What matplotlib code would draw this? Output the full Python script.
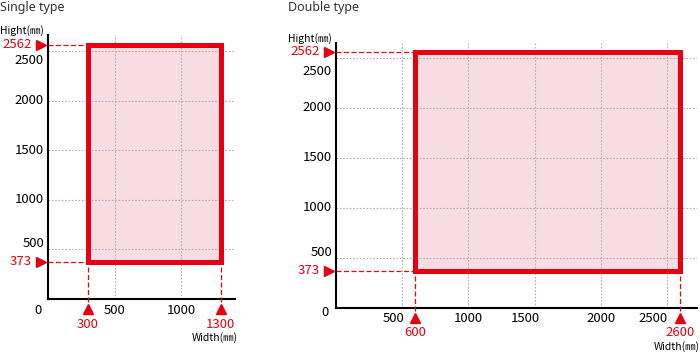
import matplotlib.pyplot as plt
from matplotlib.patches import Rectangle
from matplotlib.transforms import offset_copy

# Size ranges (mm)
single_width = [300, 1300]
single_height = [373, 2562]
double_width = [600, 2600]
double_height = [373, 2562]

single_xticks = [500, 1000]
double_xticks = [500, 1000, 1500, 2000, 2500]
yticks = [500, 1000, 1500, 2000, 2500]

RED = '#e60012'
FILL = '#f9dce2'
GRID = '#b0b0b0'

plt.rcParams['font.family'] = ['Liberation Sans Narrow', 'Noto Sans CJK JP', 'DejaVu Sans']

fig = plt.figure(figsize=(7, 3.53), dpi=100)


def px(x, y, w, h):
    # axes box given in pixels from the top-left corner
    return [x / 700, 1 - (y + h) / 353, w / 700, h / 353]


def draw_chart(ax, widths, heights, xticks, xlim, ylim,
               xtick_shift, ytick_shift, zero_off):
    ax.set_xlim(*xlim)
    ax.set_ylim(*ylim)
    for side in ['top', 'right']:
        ax.spines[side].set_visible(False)
    for side in ['left', 'bottom']:
        ax.spines[side].set_linewidth(1.5)
    ax.set_xticks(xticks)
    ax.set_yticks(yticks)
    ax.tick_params(length=0, labelbottom=False, labelleft=False)
    ax.grid(True, linestyle=(0, (1.5, 1.5)), color=GRID, linewidth=0.8)

    x0, x1 = widths
    y0, y1 = heights
    ax.add_patch(Rectangle((x0, y0), x1 - x0, y1 - y0, facecolor=FILL,
                           edgecolor='none', zorder=1))
    ax.add_patch(Rectangle((x0, y0), x1 - x0, y1 - y0, fill=False,
                           edgecolor=RED, linewidth=3.6, zorder=4,
                           joinstyle='miter'))

    # dashed guides to the axes
    down = offset_copy(ax.transData, fig=fig, x=0, y=-5, units='dots')
    for y in heights:
        ax.plot([0, x0], [y, y], color=RED, lw=0.9, ls=(0, (4, 2)), zorder=3)
    for x in widths:
        ax.plot([x, x], [y0, 0], color=RED, lw=0.9, ls=(0, (4, 2)), zorder=3,
                clip_on=False, transform=down)

    # red markers and values
    below = offset_copy(ax.transData, fig=fig, x=0, y=-10, units='dots')
    left = offset_copy(ax.transData, fig=fig, x=-7, y=0, units='dots')
    for x in widths:
        ax.plot(x, 0, marker='^', ms=6.5, color=RED, transform=below,
                clip_on=False, zorder=5)
        ax.annotate(str(x), (x, 0), xytext=(0, -25), textcoords='offset pixels',
                    ha='center', va='center', color=RED, fontsize=9.5,
                    annotation_clip=False)
    for y in heights:
        ax.plot(0, y, marker='>', ms=6.5, color=RED, transform=left,
                clip_on=False, zorder=5)
        ax.annotate(str(y), (0, y), xytext=(-16, 0), textcoords='offset pixels',
                    ha='right', va='center', color=RED, fontsize=9.5,
                    annotation_clip=False)

    # tick labels
    for x in xticks:
        ax.annotate(str(x), (x, 0), xytext=(xtick_shift.get(x, 0), -11),
                    textcoords='offset pixels', ha='center', va='center',
                    fontsize=9.5, annotation_clip=False)
    for y in yticks:
        ax.annotate(str(y), (0, y), xytext=(-4, ytick_shift.get(y, 0)),
                    textcoords='offset pixels', ha='right', va='center',
                    fontsize=9.5, annotation_clip=False)
    ax.annotate('0', (0, 0), xytext=zero_off, textcoords='offset pixels',
                ha='center', va='center', fontsize=9.5, annotation_clip=False)

    ax.annotate('Hight(㎜)', (0, 1), xycoords='axes fraction', xytext=(-4, 4),
                textcoords='offset pixels', ha='right', va='center',
                fontsize=7.5, annotation_clip=False)
    ax.annotate('Width(㎜)', (1, 0), xycoords='axes fraction', xytext=(3, -39),
                textcoords='offset pixels', ha='right', va='center',
                fontsize=7.5, annotation_clip=False)


ax1 = fig.add_axes(px(48, 35, 187, 264))
draw_chart(ax1, single_width, single_height, single_xticks,
           (0, 1406), (0, 2661), {}, {2500: -10, 500: 6}, (-10, -12))

ax2 = fig.add_axes(px(336, 43, 361, 265))
draw_chart(ax2, double_width, double_height, double_xticks,
           (0, 2725), (0, 2647), {500: -9, 1500: -9, 2500: -14},
           {2500: -14, 500: 5}, (-11, -4))

title_font = dict(fontsize=9, color='#333333', va='center', ha='left',
                  family=['Noto Sans', 'DejaVu Sans'])
fig.text(0 / 700, 1 - 8 / 353, 'Single type', **title_font)
fig.text(288 / 700, 1 - 8 / 353, 'Double type', **title_font)

fig.savefig('out.png', dpi=100)
